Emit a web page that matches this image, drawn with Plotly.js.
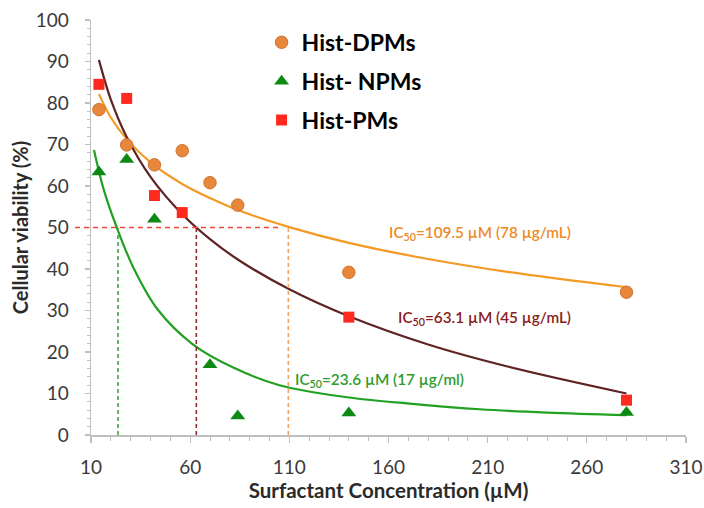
<!DOCTYPE html>
<html>
<head>
<meta charset="utf-8">
<script src="https://cdn.plot.ly/plotly-3.0.1.min.js"></script>
<style>html,body{margin:0;padding:0;background:#fff;}#chart{width:704px;height:508px;}</style>
</head>
<body>
<div id="chart"></div>
<script>
// ---- data ----
const dpmConc = [14, 28, 42, 56, 70, 84, 140, 280];
const dpmViability = [78.4, 69.9, 65.1, 68.5, 60.8, 55.4, 39.2, 34.4];

const npmConc = [14, 28, 42, 70, 84, 140, 280];
const npmViability = [63.4, 66.4, 52.0, 16.9, 4.6, 5.3, 5.4];

const pmConc = [14, 28, 42, 56, 140, 280];
const pmViability = [84.5, 81.1, 57.7, 53.6, 28.4, 8.4];

// trend curves, points
const dpmFitConc = [14, 20, 28, 40, 56, 70, 84, 110, 140, 180, 220, 280];
const dpmFitValue = [82.2, 76.5, 71.3, 65.7, 60.5, 57.1, 54.2, 50.1, 46.3, 42.4, 39.3, 35.6];

const pmFitConc = [14, 20, 28, 40, 56, 70, 84, 110, 140, 180, 220, 280];
const pmFitValue = [90.4, 80.8, 71.8, 62.2, 53.2, 47.2, 42.3, 35.1, 28.6, 21.8, 16.5, 10.0];

const npmFitConc = [11.5, 16.5, 23, 31.5, 43.5, 61.5, 82, 105, 139, 172, 206, 240, 280];
const npmFitValue = [68.7, 59.0, 50.0, 40.2, 30.3, 21.8, 16.2, 12.0, 9.1, 7.5, 6.2, 5.4, 4.8];

// IC50 values (µM) and the 50 % level
const ic50Names = ['Hist- NPMs', 'Hist-PMs', 'Hist-DPMs'];
const ic50Values = [23.6, 63.1, 109.5];
const halfLevel = 50;

const seriesNames = ['Hist-DPMs', 'Hist- NPMs', 'Hist-PMs'];
const xTickVals = [10, 60, 110, 160, 210, 260, 310];
const xRange = [10, 310];
const yRange = [0, 100];

const icLabels = [
  'IC<sub>50</sub>=23.6 µM (17 µg/ml)',
  'IC<sub>50</sub>=63.1 µM (45 µg/mL)',
  'IC<sub>50</sub>=109.5 µM (78 µg/mL)'
];
const icLabelPos = [[112, 13.3], [164, 28.2], [159, 48.7]];

// ---- styling ----
const C = {
  orangeLine: '#F39A24', orangeMk: '#E8873A', orangeMkLine: '#CF7332',
  brownLine: '#5E2424', red: '#FF2A1F',
  greenLine: '#22A022', greenMk: '#0E8A14',
  dashGreen: '#3DA83D', dashBrown: '#8E2C2C', dashOrange: '#F2A262', dashRed: '#F04A3A',
  txtOrange: '#EE8A26', txtBrown: '#8A1C1C', txtGreen: '#2E9C2E'
};

const traces = [];
// fitted curves
traces.push({x: dpmFitConc, y: dpmFitValue, mode: 'lines', line: {color: C.orangeLine, width: 2.2, shape: 'spline', smoothing: 1}, showlegend: false, hoverinfo: 'skip'});
traces.push({x: pmFitConc, y: pmFitValue, mode: 'lines', line: {color: C.brownLine, width: 2.2, shape: 'spline', smoothing: 1}, showlegend: false, hoverinfo: 'skip'});
traces.push({x: npmFitConc, y: npmFitValue, mode: 'lines', line: {color: C.greenLine, width: 2.2, shape: 'spline', smoothing: 1}, showlegend: false, hoverinfo: 'skip'});

// IC50 vertical dashed lines
const dashCols = [C.dashGreen, C.dashBrown, C.dashOrange];
ic50Values.forEach((v, i) => {
  traces.push({x: [v, v], y: [yRange[0], halfLevel], mode: 'lines',
    line: {color: dashCols[i], width: 1.6, dash: '4px,3px'}, showlegend: false, hoverinfo: 'skip', name: ic50Names[i]});
});

// markers
traces.push({x: dpmConc, y: dpmViability, name: seriesNames[0], mode: 'markers', legendgroup: 'a',
  marker: {symbol: 'circle', size: 12.5, color: C.orangeMk, line: {color: C.orangeMkLine, width: 1}}, cliponaxis: false});
traces.push({x: npmConc, y: npmViability, name: seriesNames[1], mode: 'markers', legendgroup: 'b',
  marker: {symbol: 'triangle-up', size: 13, color: C.greenMk}, cliponaxis: false});
traces.push({x: pmConc, y: pmViability, name: seriesNames[2], mode: 'markers', legendgroup: 'c',
  marker: {symbol: 'square', size: 11, color: C.red}, cliponaxis: false});

const plotL = 91, plotR = 18, plotW = 704 - plotL - plotR;
const hStartPaper = (75 - plotL) / plotW;
const hEndPaper = (ic50Values[2] - 3.5 - xRange[0]) / (xRange[1] - xRange[0]);

const textCols = [C.txtGreen, C.txtBrown, C.txtOrange];
const annotations = icLabels.map((t, i) => ({
  x: icLabelPos[i][0], y: icLabelPos[i][1], xref: 'x', yref: 'y', text: t, showarrow: false,
  xanchor: 'left', yanchor: 'middle',
  font: {family: 'Lato, "Open Sans", sans-serif', size: 15.3, color: textCols[i], weight: 600}
}));

const layout = {
  width: 704, height: 508,
  margin: {l: plotL, r: plotR, t: 20, b: 73},
  paper_bgcolor: '#ffffff', plot_bgcolor: '#ffffff',
  font: {family: 'Lato, "Open Sans", sans-serif', color: '#3a3a3a'},
  showlegend: true,
  legend: {x: 0.2867, y: 0.998, xanchor: 'left', yanchor: 'top', bgcolor: 'rgba(0,0,0,0)',
    font: {size: 23, color: '#000', weight: 'bold', family: 'Lato, sans-serif'}, tracegroupgap: 6, itemwidth: 30},
  xaxis: {
    range: xRange, tickmode: 'array', tickvals: xTickVals, ticktext: xTickVals.map(String),
    showline: true, linecolor: '#BFBFBF', linewidth: 1.5, ticks: 'outside', ticklen: 6, tickwidth: 1.2, tickcolor: '#BFBFBF',
    minor: {tickmode: 'linear', tick0: 10, dtick: 10, ticks: 'outside', ticklen: 4, tickcolor: '#BFBFBF', tickwidth: 1},
    showgrid: false, zeroline: false, ticklabelstandoff: 9,
    tickfont: {size: 19, color: '#3a3a3a'},
    title: {text: 'Surfactant Concentration (µM)', font: {size: 20.5, color: '#2a2a2a', weight: 'bold'}, standoff: 6}
  },
  yaxis: {
    range: yRange, tickmode: 'linear', tick0: 0, dtick: 10,
    showline: true, linecolor: '#BFBFBF', linewidth: 1.5, ticks: 'outside', ticklen: 5, tickwidth: 1.2, tickcolor: '#BFBFBF',
    minor: {tickmode: 'linear', tick0: 0, dtick: 2, ticks: 'outside', ticklen: 3, tickcolor: '#BFBFBF', tickwidth: 1},
    showgrid: false, zeroline: false, ticklabelstandoff: 12,
    tickfont: {size: 19, color: '#3a3a3a'},
    title: {text: 'Cellular viability (%)', font: {size: 20, color: '#2a2a2a', weight: 'bold'}, standoff: 1}
  },
  shapes: [{type: 'line', xref: 'paper', yref: 'y', x0: hStartPaper, x1: hEndPaper, y0: halfLevel, y1: halfLevel,
    line: {color: C.dashRed, width: 1.6, dash: '5px,4px'}}],
  annotations: annotations
};

Plotly.newPlot('chart', traces, layout, {staticPlot: true, displayModeBar: false});
</script>
</body>
</html>
